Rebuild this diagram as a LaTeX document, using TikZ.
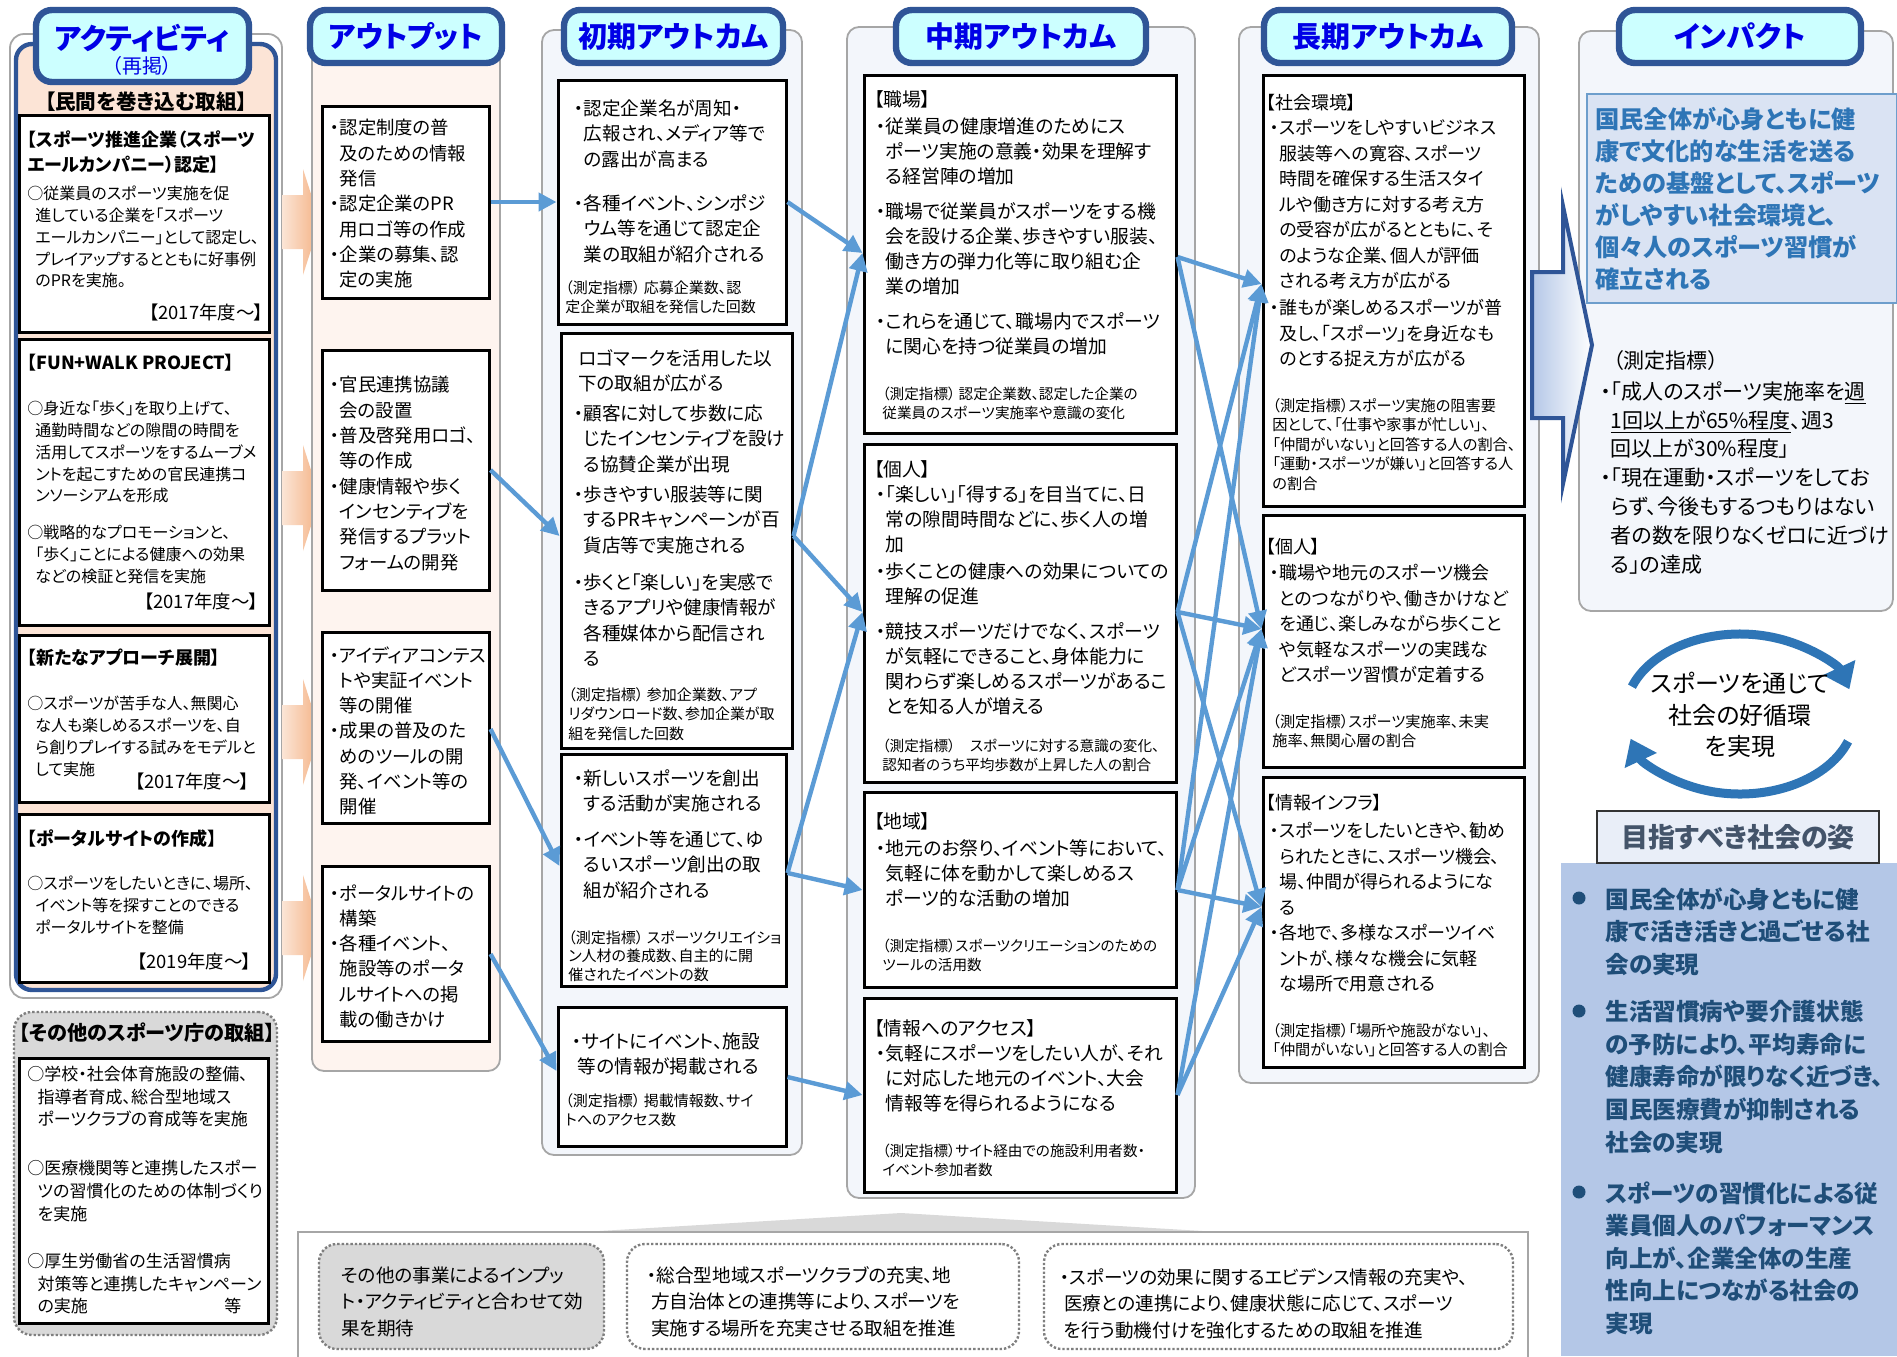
\documentclass[tikz,border=0pt]{standalone}
\usepackage{fontspec}
\setmainfont{Noto Sans CJK JP}[RawFeature=+palt]
\usetikzlibrary{fit,arrows.meta}
\definecolor{tblue}{HTML}{0000E6}
\definecolor{tframe}{HTML}{2F5597}
\definecolor{tfill}{HTML}{CCFFFF}
\definecolor{bggray}{HTML}{A6A6A6}
\definecolor{bgblue}{HTML}{F3F6FB}
\definecolor{bgpeach}{HTML}{FEF4EF}
\definecolor{actpeach}{HTML}{FCE4D6}
\definecolor{connblue}{HTML}{5B9BD5}
\definecolor{impblue}{HTML}{2E75B6}
\definecolor{impfill}{HTML}{DAE3F3}
\definecolor{goalfill}{HTML}{B4C7E7}
\definecolor{goaltext}{HTML}{1F4E79}
\definecolor{grayone}{HTML}{D9D9D9}
\definecolor{dgray}{HTML}{7F7F7F}
\definecolor{peachdark}{HTML}{F4B183}
\definecolor{peachlight}{HTML}{FBE5D6}
\definecolor{targettext}{HTML}{44546A}
\newcommand\bh{\phantom{・}}
\tikzset{
 tx/.style={anchor=north west, inner sep=0pt, align=left, execute at begin node={\vphantom{国}}},
 txr/.style={anchor=north east, inner sep=0pt, align=right, execute at begin node={\vphantom{国}}},
 colbg/.style={draw=bggray, line width=0.9pt, fill=bgblue, rounded corners=6pt, inner sep=0pt},
 ttlbox/.style={draw=tframe, line width=3.2pt, fill=tfill, rounded corners=8pt, inner sep=0pt},
 ttltext/.style={font=\fontsize{14.5}{17}\selectfont\bfseries, text=tblue, inner sep=0pt},
 bbox/.style={draw=black, line width=1.5pt, fill=white, inner sep=0pt},
 conn/.style={draw=connblue, line width=2.2pt, -{Triangle[length=9pt,width=9pt]}},
 dotbox/.style={draw=dgray, line width=1.2pt, densely dotted, rounded corners=9pt, inner sep=0pt},
 fA/.style={font=\fontsize{8.0}{10.85}\selectfont},
 fAy/.style={font=\fontsize{9.2}{11}\selectfont},
 fAt/.style={font=\fontsize{9.0}{12.5}\selectfont\bfseries},
 fO/.style={font=\fontsize{9.2}{12.65}\selectfont},
 fS/.style={font=\fontsize{9.3}{12.8}\selectfont},
 fSm/.style={font=\fontsize{7.5}{9.8}\selectfont},
 fM/.style={font=\fontsize{9.4}{12.5}\selectfont},
 fMm/.style={font=\fontsize{7.3}{9.2}\selectfont},
 fL/.style={font=\fontsize{9.0}{12.75}\selectfont},
 fLm/.style={font=\fontsize{7.6}{9.7}\selectfont},
 fB/.style={font=\fontsize{9.3}{13.3}\selectfont},
}
\begin{document}
\begin{tikzpicture}[x=0.5pt,y=-0.5pt]
\useasboundingbox (0,0) rectangle (1897,1356);
\fill[white] (0,0) rectangle (1897,1356);

% ================= Activity column
\node[fit={(10,34) (282,998)}, draw=bggray, line width=0.9pt, fill=white, rounded corners=7pt, inner sep=0pt] (actout) {};
\node[fit={(16,44) (276,990)}, draw=tframe, line width=2.2pt, fill=actpeach, rounded corners=8pt, inner sep=0pt] (actin) {};
\node[ttlbox, fit={(36,10) (249,82)}] (tact) {};
\node[ttltext] (tacttx) at (142,38) {アクティビティ};
\node[font=\fontsize{10}{12}\selectfont, text=tblue, inner sep=0pt] (tactsub) at (142,66) {（再掲）};
\node[font=\fontsize{10.3}{12}\selectfont\bfseries, inner sep=0pt] (minkan) at (146,102) {【民間を巻き込む取組】};

\node[bbox, fit={(19,115) (269,332)}] (A1) {};
\node[tx,fAt] (A1t) at (27,130) {【スポーツ推進企業（スポーツ\\エールカンパニー）認定】};
\node[tx,fA] (A1b) at (27,186) {○従業員のスポーツ実施を促\\\hspace*{0.5em}進している企業を「スポーツ\\\hspace*{0.5em}エールカンパニー」として認定し、\\\hspace*{0.5em}プレイアップするとともに好事例\\\hspace*{0.5em}のPRを実施。};
\node[txr,fAy] (A1y) at (264,304) {【2017年度～】};

\node[bbox, fit={(19,339) (269,625)}] (A2) {};
\node[tx,fAt] (A2t) at (27,354) {【FUN+WALK PROJECT】};
\node[tx,fA] (A2b) at (27,401) {○身近な「歩く」を取り上げて、\\\hspace*{0.5em}通勤時間などの隙間の時間を\\\hspace*{0.5em}活用してスポーツをするムーブメ\\\hspace*{0.5em}ントを起こすための官民連携コ\\\hspace*{0.5em}ンソーシアムを形成};
\node[tx,fA] (A2c) at (27,525) {○戦略的なプロモーションと、\\\hspace*{0.5em}「歩く」ことによる健康への効果\\\hspace*{0.5em}などの検証と発信を実施};
\node[txr,fAy] (A2y) at (259,593) {【2017年度～】};

\node[bbox, fit={(19,635) (269,802)}] (A3) {};
\node[tx,fAt] (A3t) at (27,649) {【新たなアプローチ展開】};
\node[tx,fA] (A3b) at (27,696) {○スポーツが苦手な人、無関心\\\hspace*{0.5em}な人も楽しめるスポーツを、自\\\hspace*{0.5em}ら創りプレイする試みをモデルと\\\hspace*{0.5em}して実施};
\node[txr,fAy] (A3y) at (250,773) {【2017年度～】};

\node[bbox, fit={(19,814) (269,982)}] (A4) {};
\node[tx,fAt] (A4t) at (27,829) {【ポータルサイトの作成】};
\node[tx,fA] (A4b) at (27,876) {○スポーツをしたいときに、場所、\\\hspace*{0.5em}イベント等を探すことのできる\\\hspace*{0.5em}ポータルサイトを整備};
\node[txr,fAy] (A4y) at (252,953) {【2019年度～】};

% other activities
\node[dotbox, fill=grayone, fit={(14,1012) (277,1335)}] (oth) {};
\node[font=\fontsize{10.1}{12}\selectfont\bfseries, inner sep=0pt] (otht) at (147,1033) {【その他のスポーツ庁の取組】};
\node[bbox, fit={(19,1058) (268,1323)}] (othin) {};
\node[tx,font=\fontsize{8.5}{11.3}\selectfont] (oth1) at (27,1066) {○学校・社会体育施設の整備、\\\hspace*{0.6em}指導者育成、総合型地域ス\\\hspace*{0.6em}ポーツクラブの育成等を実施};
\node[tx,font=\fontsize{8.5}{11.3}\selectfont] (oth2) at (27,1160) {○医療機関等と連携したスポー\\\hspace*{0.6em}ツの習慣化のための体制づくり\\\hspace*{0.6em}を実施};
\node[tx,font=\fontsize{8.5}{11.3}\selectfont] (oth3) at (27,1253) {○厚生労働省の生活習慣病\\\hspace*{0.6em}対策等と連携したキャンペーン\\\hspace*{0.6em}の実施};
\node[tx,font=\fontsize{8.5}{11.3}\selectfont] (oth4) at (224,1298) {等};

% peach arrows
\foreach \c in {222,498,732,928}{
 \shade[left color=peachlight, right color=peachdark] (282,\c-27) -- (303,\c-27) -- (303,\c-53) -- (320,\c) -- (303,\c+53) -- (303,\c+27) -- (282,\c+27) -- cycle;
}

% ================= Output column
\node[fit={(312,36) (500,1071)}, draw=bggray, line width=0.9pt, fill=bgpeach, rounded corners=6pt, inner sep=0pt] (outbg) {};
\node[ttlbox, fit={(310,10) (502,63)}] (tout) {};
\node[ttltext] (touttx) at (tout.center) {アウトプット};

\node[bbox, fit={(322,106) (489,298)}] (O1) {};
\node[tx,fO] (O1t) at (330,119) {・認定制度の普\\\bh 及のための情報\\\bh 発信\\・認定企業のPR\\\bh 用ロゴ等の作成\\・企業の募集、認\\\bh 定の実施};
\node[bbox, fit={(322,350) (489,590)}] (O2) {};
\node[tx,fO] (O2t) at (330,376) {・官民連携協議\\\bh 会の設置\\・普及啓発用ロゴ、\\\bh 等の作成\\・健康情報や歩く\\\bh インセンティブを\\\bh 発信するプラット\\\bh フォームの開発};
\node[bbox, fit={(322,632) (489,823)}] (O3) {};
\node[tx,fO] (O3t) at (330,646) {・アイディアコンテス\\\bh トや実証イベント\\\bh 等の開催\\・成果の普及のた\\\bh めのツールの開\\\bh 発、イベント等の\\\bh 開催};
\node[bbox, fit={(322,866) (489,1041)}] (O4) {};
\node[tx,fO] (O4t) at (330,884) {・ポータルサイトの\\\bh 構築\\・各種イベント、\\\bh 施設等のポータ\\\bh ルサイトへの掲\\\bh 載の働きかけ};

% ================= Initial outcomes
\node[colbg, fit={(542,30) (802,1155)}] (inibg) {};
\node[ttlbox, fit={(564,10) (783,63)}] (tini) {};
\node[ttltext] (tinitx) at (tini.center) {初期アウトカム};

\node[bbox, fit={(558,80) (786,324)}] (S1) {};
\node[tx,fS] (S1a) at (574,99) {・認定企業名が周知・\\\bh 広報され、メディア等で\\\bh の露出が高まる};
\node[tx,fS] (S1b) at (574,194) {・各種イベント、シンポジ\\\bh ウム等を通じて認定企\\\bh 業の取組が紹介される};
\node[tx,fSm] (S1m) at (565,280) {（測定指標） 応募企業数、認\\定企業が取組を発信した回数};

\node[bbox, fit={(561,333) (792,748)}] (S2) {};
\node[tx,fS] (S2a) at (578,349) {ロゴマークを活用した以\\下の取組が広がる};
\node[tx,fS] (S2b) at (574,404) {・顧客に対して歩数に応\\\bh じたインセンティブを設け\\\bh る協賛企業が出現};
\node[tx,fS] (S2c) at (574,485) {・歩きやすい服装等に関\\\bh するPRキャンペーンが百\\\bh 貨店等で実施される};
\node[tx,fS] (S2d) at (574,573) {・歩くと「楽しい」を実感で\\\bh きるアプリや健康情報が\\\bh 各種媒体から配信され\\\bh る};
\node[tx,fSm] (S2m) at (568,687) {（測定指標） 参加企業数、アプ\\リダウンロード数、参加企業が取\\組を発信した回数};

\node[bbox, fit={(561,754) (786,986)}] (S3) {};
\node[tx,fS] (S3a) at (574,769) {・新しいスポーツを創出\\\bh する活動が実施される};
\node[tx,fS] (S3b) at (574,830) {・イベント等を通じて、ゆ\\\bh るいスポーツ創出の取\\\bh 組が紹介される};
\node[tx,font=\fontsize{7.5}{9.2}\selectfont] (S3m) at (568,930) {（測定指標） スポーツクリエイショ\\ン人材の養成数、自主的に開\\催されたイベントの数};

\node[bbox, fit={(558,1007) (786,1146)}] (S4) {};
\node[tx,fS] (S4a) at (572,1032) {・サイトにイベント、施設\\\hspace*{0.3em}等の情報が掲載される};
\node[tx,fSm] (S4m) at (565,1093) {（測定指標） 掲載情報数、サイ\\トへのアクセス数};

% ================= Mid outcomes
\node[colbg, fit={(847,27) (1195,1198)}] (midbg) {};
\node[ttlbox, fit={(896,10) (1146,63)}] (tmid) {};
\node[ttltext] (tmidtx) at (tmid.center) {中期アウトカム};

\node[bbox, fit={(864,75) (1176,433)}] (M1) {};
\node[tx,fM] (M1h) at (874,90) {【職場】};
\node[tx,fM] (M1a) at (876,117) {・従業員の健康増進のためにス\\\bh ポーツ実施の意義・効果を理解す\\\bh る経営陣の増加};
\node[tx,fM] (M1b) at (876,202) {・職場で従業員がスポーツをする機\\\bh 会を設ける企業、歩きやすい服装、\\\bh 働き方の弾力化等に取り組む企\\\bh 業の増加};
\node[tx,fM] (M1c) at (876,312) {・これらを通じて、職場内でスポーツ\\\bh に関心を持つ従業員の増加};
\node[tx,fMm] (M1m) at (882,387) {（測定指標） 認定企業数、認定した企業の\\従業員のスポーツ実施率や意識の変化};

\node[bbox, fit={(864,444) (1176,782)}] (M2) {};
\node[tx,fM] (M2h) at (874,460) {【個人】};
\node[tx,fM] (M2a) at (876,485) {・「楽しい」「得する」を目当てに、日\\\bh 常の隙間時間などに、歩く人の増\\\bh 加};
\node[tx,fM] (M2b) at (876,562) {・歩くことの健康への効果についての\\\bh 理解の促進};
\node[tx,fM] (M2c) at (876,622) {・競技スポーツだけでなく、スポーツ\\\bh が気軽にできること、身体能力に\\\bh 関わらず楽しめるスポーツがあるこ\\\bh とを知る人が増える};
\node[tx,fMm] (M2m) at (882,739) {（測定指標）　スポーツに対する意識の変化、\\認知者のうち平均歩数が上昇した人の割合};

\node[bbox, fit={(864,792) (1176,987)}] (M3) {};
\node[tx,fM] (M3h) at (874,812) {【地域】};
\node[tx,fM] (M3a) at (876,839) {・地元のお祭り、イベント等において、\\\bh 気軽に体を動かして楽しめるス\\\bh ポーツ的な活動の増加};
\node[tx,fMm] (M3m) at (882,939) {（測定指標）スポーツクリエーションのための\\ツールの活用数};

\node[bbox, fit={(864,998) (1176,1192)}] (M4) {};
\node[tx,fM] (M4h) at (874,1019) {【情報へのアクセス】};
\node[tx,fM] (M4a) at (876,1044) {・気軽にスポーツをしたい人が、それ\\\bh に対応した地元のイベント、大会\\\bh 情報等を得られるようになる};
\node[tx,fMm] (M4m) at (882,1144) {（測定指標）サイト経由での施設利用者数・\\イベント参加者数};

% ================= Long-term outcomes
\node[colbg, fit={(1239,27) (1539,1083)}] (longbg) {};
\node[ttlbox, fit={(1264,10) (1512,63)}] (tlong) {};
\node[ttltext] (tlongtx) at (tlong.center) {長期アウトカム};

\node[bbox, fit={(1263,75) (1524,506)}] (L1) {};
\node[tx,fL] (L1h) at (1266,94) {【社会環境】};
\node[tx,fL] (L1a) at (1270,119) {・スポーツをしやすいビジネス\\\bh 服装等への寛容、スポーツ\\\bh 時間を確保する生活スタイ\\\bh ルや働き方に対する考え方\\\bh の受容が広がるとともに、そ\\\bh のような企業、個人が評価\\\bh される考え方が広がる};
\node[tx,fL] (L1b) at (1270,299) {・誰もが楽しめるスポーツが普\\\bh 及し、「スポーツ」を身近なも\\\bh のとする捉え方が広がる};
\node[tx,fLm] (L1m) at (1272,398) {（測定指標）スポーツ実施の阻害要\\因として、「仕事や家事が忙しい」、\\「仲間がいない」と回答する人の割合、\\「運動・スポーツが嫌い」と回答する人\\の割合};

\node[bbox, fit={(1263,515) (1524,767)}] (L2) {};
\node[tx,fL] (L2h) at (1266,538) {【個人】};
\node[tx,fL] (L2a) at (1270,564) {・職場や地元のスポーツ機会\\\bh とのつながりや、働きかけなど\\\bh を通じ、楽しみながら歩くこと\\\bh や気軽なスポーツの実践な\\\bh どスポーツ習慣が定着する};
\node[tx,fLm] (L2m) at (1272,714) {（測定指標）スポーツ実施率、未実\\施率、無関心層の割合};

\node[bbox, fit={(1263,777) (1524,1067)}] (L3) {};
\node[tx,fL] (L3h) at (1266,794) {【情報インフラ】};
\node[tx,fL] (L3a) at (1270,822) {・スポーツをしたいときや、勧め\\\bh られたときに、スポーツ機会、\\\bh 場、仲間が得られるようにな\\\bh る};
\node[tx,fL] (L3b) at (1270,924) {・各地で、多様なスポーツイベ\\\bh ントが、様々な機会に気軽\\\bh な場所で用意される};
\node[tx,fLm] (L3m) at (1272,1023) {（測定指標）「場所や施設がない」、\\「仲間がいない」と回答する人の割合};

% ================= Impact
\node[colbg, fit={(1579,31) (1893,611)}] (impbg) {};
\node[ttlbox, fit={(1619,10) (1861,63)}] (timp) {};
\node[ttltext] (timptx) at (timp.center) {インパクト};
\node[fit={(1587,94) (1897,303)}, draw=impblue!70, line width=1pt, fill=impfill, inner sep=0pt] (impbox) {};
\node[tx, font=\fontsize{12.1}{16}\selectfont\bfseries, text=impblue] (impt) at (1595,107) {国民全体が心身ともに健\\康で文化的な生活を送る\\ための基盤として、スポーツ\\がしやすい社会環境と、\\個々人のスポーツ習慣が\\確立される};
\shade[left color=goalfill, right color=white, draw=tframe, line width=2pt] (1532,272) -- (1563,272) -- (1563,206) -- (1592,345) -- (1563,484) -- (1563,418) -- (1532,418) -- cycle;
\node[tx, font=\fontsize{10.5}{14.4}\selectfont] (impmh) at (1613,350) {（測定指標）};
\node[tx, font=\fontsize{10.5}{14.4}\selectfont] (impm) at (1600,381) {・「成人のスポーツ実施率を\underline{週}\\\bh\underline{1回以上が65\%程度}、週3\\\bh 回以上が30\%程度」\\・「現在運動・スポーツをしてお\\\bh らず、今後もするつもりはない\\\bh 者の数を限りなくゼロに近づけ\\\bh る」の達成};

% cycle
\draw[impblue, line width=4.5pt, -{Triangle[length=12pt,width=17pt]}] (1740,714) ++(200:115 and 80) arc[start angle=200, end angle=342, x radius=115, y radius=80];
\draw[impblue, line width=4.5pt, -{Triangle[length=12pt,width=17pt]}] (1740,714) ++(20:115 and 80) arc[start angle=20, end angle=162, x radius=115, y radius=80];
\node[font=\fontsize{12}{15.7}\selectfont, align=center, inner sep=0pt] (cyc) at (1740,715) {スポーツを通じて\\社会の好循環\\を実現};

% goal
\node[fit={(1561,863) (1897,1356)}, fill=goalfill, inner sep=0pt] (goalbg) {};
\node[fit={(1597,811) (1879,863)}, draw=black!80, line width=1.3pt, fill=impfill!60, inner sep=0pt] (goalbox) {};
\node[font=\fontsize{13.5}{15}\selectfont\bfseries, text=targettext, inner sep=0pt] (goaltx) at (goalbox.center) {目指すべき社会の姿};
\node[circle, fill=goaltext, minimum size=6.5pt, inner sep=0pt] (gb1) at (1579,898) {};
\node[circle, fill=goaltext, minimum size=6.5pt, inner sep=0pt] (gb2) at (1579,1011) {};
\node[circle, fill=goaltext, minimum size=6.5pt, inner sep=0pt] (gb3) at (1579,1192) {};
\node[tx, font=\fontsize{11.8}{16.3}\selectfont\bfseries, text=goaltext] (g1) at (1605,887) {国民全体が心身ともに健\\康で活き活きと過ごせる社\\会の実現};
\node[tx, font=\fontsize{11.8}{16.3}\selectfont\bfseries, text=goaltext] (g2) at (1605,1000) {生活習慣病や要介護状態\\の予防により、平均寿命に\\健康寿命が限りなく近づき、\\国民医療費が抑制される\\社会の実現};
\node[tx, font=\fontsize{11.8}{16.3}\selectfont\bfseries, text=goaltext] (g3) at (1605,1181) {スポーツの習慣化による従\\業員個人のパフォーマンス\\向上が、企業全体の生産\\性向上につながる社会の\\実現};

% ================= Bottom panel
\fill[grayone] (566,1233) -- (901,1213) -- (1236,1233) -- cycle;
\node[fit={(298,1232) (1528,1366)}, draw=bggray, line width=1.2pt, fill=white, inner sep=0pt] (botbg) {};
\node[dotbox, fill=grayone, fit={(319,1244) (604,1349)}] (B1) {};
\node[dotbox, fill=white, fit={(627,1244) (1019,1349)}] (B2) {};
\node[dotbox, fill=white, fit={(1044,1244) (1513,1349)}] (B3) {};
\node[tx,fB] (B1t) at (341,1266) {その他の事業によるインプッ\\ト・アクティビティと合わせて効\\果を期待};
\node[tx,fB] (B2t) at (647,1266) {・総合型地域スポーツクラブの充実、地\\\hspace*{0.2em}方自治体との連携等により、スポーツを\\\hspace*{0.2em}実施する場所を充実させる取組を推進};
\node[tx,fB] (B3t) at (1060,1268) {・スポーツの効果に関するエビデンス情報の充実や、\\\hspace*{0.2em}医療との連携により、健康状態に応じて、スポーツ\\\hspace*{0.2em}を行う動機付けを強化するための取組を推進};

% ================= Connectors
\draw[conn] (O1.east |- 0,202) -- (S1.west |- 0,202);
\draw[conn] (O2.east |- 0,470) -- (S2.west |- 0,536);
\draw[conn] (O3.east |- 0,729) -- (S3.west |- 0,866);
\draw[conn] (O4.east |- 0,954) -- (S4.west |- 0,1071);

\draw[conn] (S1.east |- 0,202) -- (M1.west |- 0,253);
\draw[conn] (S2.east |- 0,536) -- (M1.west |- 0,253);
\draw[conn] (S2.east |- 0,536) -- (M2.west |- 0,612);
\draw[conn] (S3.east |- 0,873) -- (M2.west |- 0,612);
\draw[conn] (S3.east |- 0,873) -- (M3.west |- 0,890);
\draw[conn] (S4.east |- 0,1077) -- (M4.west |- 0,1095);

\draw[conn] (M1.east |- 0,257) -- (L1.west |- 0,284);
\draw[conn] (M1.east |- 0,257) -- (L2.west |- 0,629);
\draw[conn] (M2.east |- 0,612) -- (L1.west |- 0,284);
\draw[conn] (M2.east |- 0,612) -- (L2.west |- 0,629);
\draw[conn] (M2.east |- 0,612) -- (L3.west |- 0,907);
\draw[conn] (M3.east |- 0,890) -- (L1.west |- 0,284);
\draw[conn] (M3.east |- 0,890) -- (L2.west |- 0,629);
\draw[conn] (M3.east |- 0,890) -- (L3.west |- 0,907);
\draw[conn] (M4.east |- 0,1095) -- (L2.west |- 0,629);
\draw[conn] (M4.east |- 0,1095) -- (L3.west |- 0,907);
\end{tikzpicture}
\end{document}
